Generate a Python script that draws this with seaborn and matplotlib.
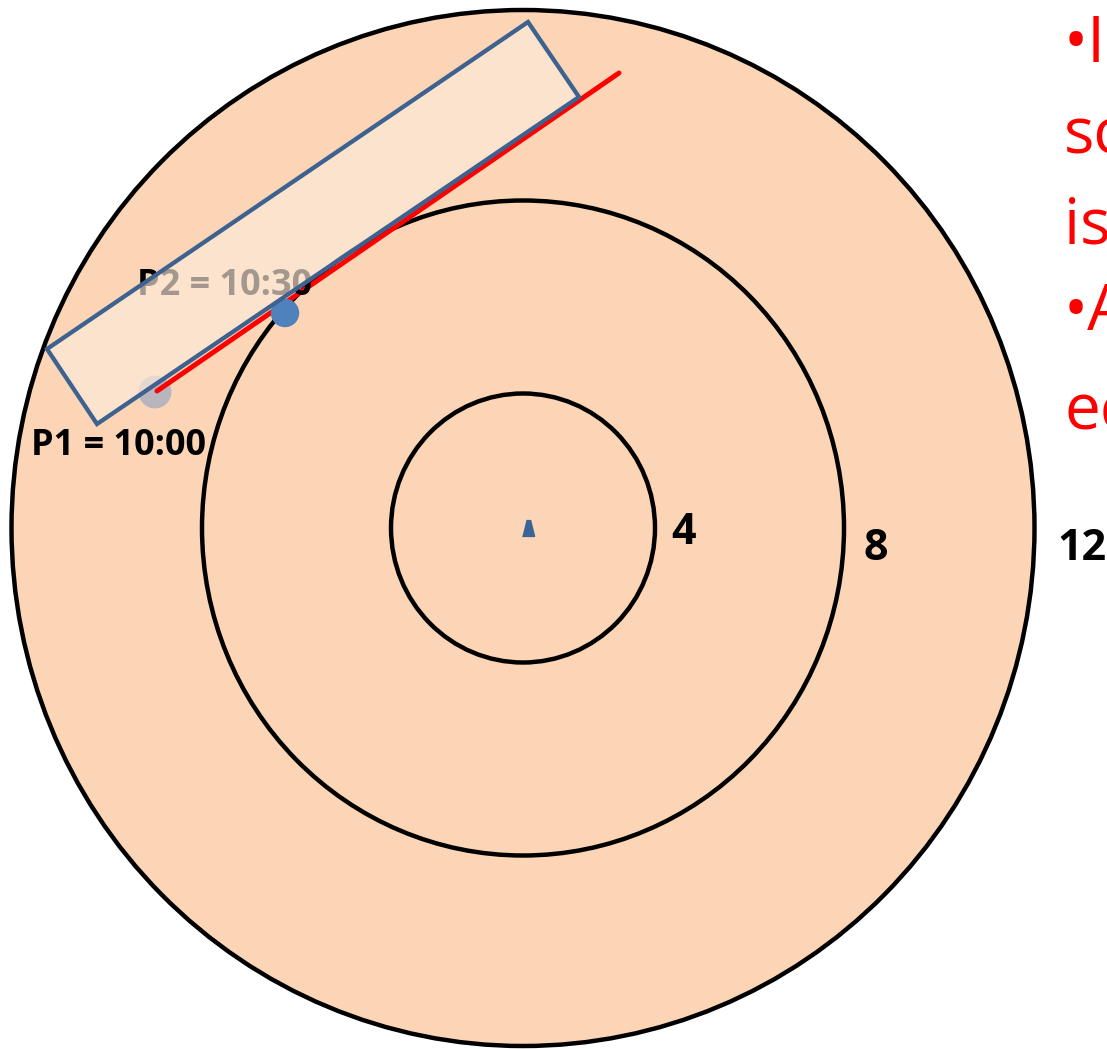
import numpy as np
import pandas as pd
import matplotlib
matplotlib.use("Agg")
import matplotlib.pyplot as plt
import seaborn as sns
from matplotlib.patches import Ellipse, Polygon

# ring geometry in pixel space (x, y from top-left)
ring_center = (523, 528)
ring_width = [1023, 642, 264]
ring_height = [1036, 655, 269]
ring_labels = ["12", "8", "4"]
ring_label_x = [1057, 876, 684]
ring_label_y = [548, 548, 533]

# radar sweep window and echo line
window_x = [528, 579, 97, 47]
window_y = [22, 97, 424, 349]
echo_x = [157, 619]
echo_y = [391, 73]

# plotted positions
points = pd.DataFrame({
    "name": ["P1", "P2"],
    "x": [155, 285],
    "y": [392, 313],
    "label": ["P1 = 10:00", "P2 = 10:30"],
    "lx": [31, 137],
    "ly": [446, 286],
})

notes = ["•I", "sc", "is", "•A", "ec"]
notes_y = [62, 153, 243, 330, 430]

sns.set_style("white")
plt.rcParams['font.family'] = ['Open Sans', 'DejaVu Sans']

fig = plt.figure(figsize=(11.07, 10.49), dpi=100)
ax = fig.add_axes([0, 0, 1, 1])
ax.set_xlim(0, 1107)
ax.set_ylim(1049, 0)
ax.axis("off")

for i, (w, h) in enumerate(zip(ring_width, ring_height)):
    fc = "#FBD5B5" if i == 0 else "none"
    ax.add_patch(Ellipse(ring_center, w, h, facecolor=fc, edgecolor="black", lw=3.2, zorder=1))

for lab, x, y in zip(ring_labels, ring_label_x, ring_label_y):
    ha = "left" if lab == "12" else "center"
    ax.text(x, y, lab, fontsize=31, fontweight="bold", color="black", ha=ha, va="center", zorder=2)

# center marker
ax.scatter([ring_center[0] + 5], [ring_center[1]], marker=[(-1, -1.3), (1, -1.3), (0.35, 1.3), (-0.35, 1.3)],
           s=130, color="#3A6496", zorder=3)

sns.scatterplot(data=points.iloc[[0]], x="x", y="y", s=560, color="#B8B5BE", edgecolor="none", ax=ax, zorder=3, legend=False)
sns.lineplot(x=echo_x, y=echo_y, color="#FF0000", lw=3.6, ax=ax, zorder=4)
sns.scatterplot(data=points.iloc[[1]], x="x", y="y", s=420, color="#4F81BD", edgecolor="none", ax=ax, zorder=5, legend=False)

for _, r in points.iterrows():
    ax.text(r["lx"], r["ly"], r["label"], fontsize=26, fontweight="bold", color="black", ha="left", va="center", zorder=6)

win = np.column_stack([window_x, window_y])
ax.add_patch(Polygon(win, closed=True, facecolor="#FDEBDC", alpha=0.65, edgecolor="none", zorder=7))
ax.add_patch(Polygon(win, closed=True, facecolor="none", edgecolor="#3E6290", lw=3.1, zorder=8))

for t, y in zip(notes, notes_y):
    ax.text(1064, y, t, fontsize=46, color="#FF0000", ha="left", va="baseline", zorder=9)

fig.savefig("out.png", dpi=100, facecolor="white")
plt.close(fig)
